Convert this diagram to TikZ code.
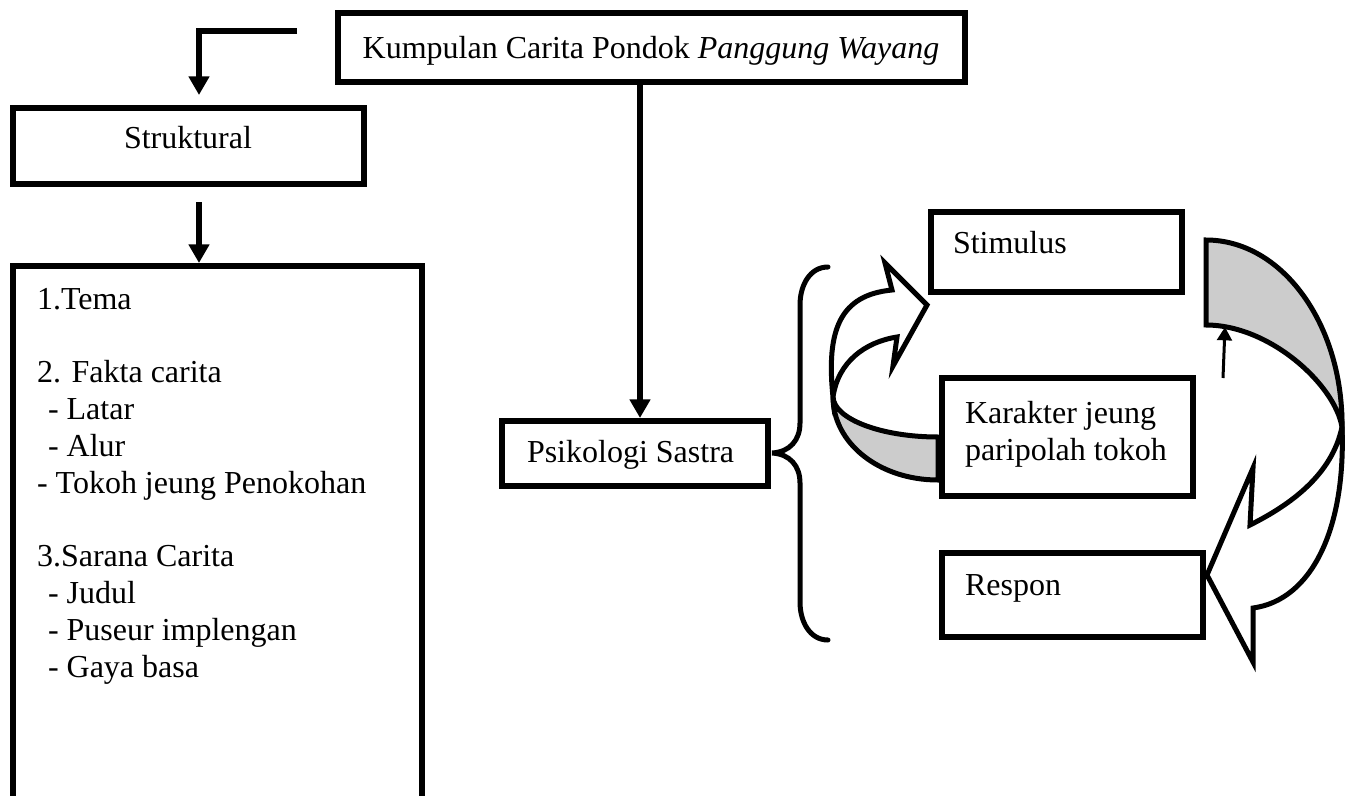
\documentclass[tikz,border=0pt]{standalone}
\usepackage{fontspec}
\setmainfont{Liberation Serif}
\usetikzlibrary{arrows.meta}
\begin{document}
\begin{tikzpicture}[x=0.75pt,y=-0.75pt,
  box/.style={draw, line width=4.5pt, fill=white, inner sep=0pt, outer sep=0pt, anchor=north west},
  txt/.style={inner sep=0pt, outer sep=0pt, anchor=base west, font=\fontsize{24}{27.6}\selectfont},
  conn/.style={line width=4.5pt, -{Triangle[length=14pt,width=15pt]}},
  thinconn/.style={line width=2.25pt, -{Triangle[length=10pt,width=11pt]}},
  curvy/.style={draw, line width=3.75pt, line join=miter, miter limit=10},
  bandfill/.style={fill=black!20},
  bracestyle/.style={line width=3.75pt, line cap=round}
  ]
\clip (0,0) rectangle (1350,796);
\fill[white] (0,0) rectangle (1350,796);

% ---------- curved block arrows ----------
% left arrow (from Karakter up to Stimulus)
\filldraw[curvy, bandfill] (833,397) .. controls (834,419) and (881,437) .. (938,437)
   -- (938,480) .. controls (879,480) and (833,443) .. (833,397) -- cycle;
\filldraw[curvy, fill=white] (833,397) .. controls (826,330) and (840,295) .. (892,290)
   -- (885,263) -- (927,305) -- (893,366) -- (897,337)
   .. controls (865,342) and (838,362) .. (833,397) -- cycle;
% right arrow (from Stimulus down to Respon)
\filldraw[curvy, bandfill] (1206,240) .. controls (1282,240) and (1343,324) .. (1342,427)
   .. controls (1335,385) and (1270,325) .. (1206,325) -- cycle;
\filldraw[curvy, fill=white] (1342,427) .. controls (1346,528) and (1312,600) .. (1253,608)
   -- (1253,662) -- (1207,575) -- (1253,468) -- (1250,525)
   .. controls (1290,505) and (1332,475) .. (1342,427) -- cycle;

% ---------- brace ----------
\draw[bracestyle] (828,267) .. controls (810,267) and (800,285) .. (800,305) -- (800,423)
   .. controls (800,440) and (790,452) .. (772,453)
   .. controls (790,454) and (800,466) .. (800,483) -- (800,602)
   .. controls (800,622) and (810,640) .. (828,640);

% ---------- boxes ----------
\node[box, minimum width=470.25pt, minimum height=51.75pt] (kump) at (338,13) {};
\node[box, minimum width=263.25pt, minimum height=57pt] (struk) at (13,108) {};
\node[box, minimum width=306.75pt, minimum height=423pt] (list) at (13,266) {};
\node[box, minimum width=199.5pt, minimum height=48.75pt] (psi) at (502,421) {};
\node[box, minimum width=188.25pt, minimum height=60pt] (stim) at (931,212) {};
\node[box, minimum width=188.25pt, minimum height=88.5pt] (kar) at (942,378) {};
\node[box, minimum width=195.75pt, minimum height=63pt] (resp) at (942,553) {};

% ---------- texts ----------
\node[txt, anchor=base] (tkump) at (651,58) {Kumpulan Carita Pondok \textit{Panggung Wayang}};
\node[txt, anchor=base] (tstruk) at (188,148) {Struktural};
\node[txt] (l1) at (37,309) {1.Tema};
\node[txt] (l2) at (37,382.6) {2. Fakta carita};
\node[txt] (l3) at (48,419.4) {- Latar};
\node[txt] (l4) at (48,456.2) {- Alur};
\node[txt] (l5) at (37,493) {- Tokoh jeung Penokohan};
\node[txt] (l6) at (37,566.6) {3.Sarana Carita};
\node[txt] (l7) at (48,603.4) {- Judul};
\node[txt] (l8) at (48,640.2) {- Puseur implengan};
\node[txt] (l9) at (48,677) {- Gaya basa};
\node[txt] (tpsi) at (527,462) {Psikologi Sastra};
\node[txt] (tstim) at (953,253) {Stimulus};
\node[txt] (tkar1) at (965,423) {Karakter jeung};
\node[txt] (tkar2) at (965,460) {paripolah tokoh};
\node[txt] (tresp) at (965,595) {Respon};

% ---------- connectors ----------
\coordinate (tl0) at (297,31);
\coordinate (tl1) at (199,95);
\draw[conn] (tl0) -| (tl1);
\coordinate (s0) at (199,202);
\draw[conn] (s0) -- ([yshift=2.25pt]s0 |- list.north);
\coordinate (k0) at (640,82);
\draw[conn] (k0) -- ([yshift=2.25pt]k0 |- psi.north);
\coordinate (sa0) at (1223,378);
\coordinate (sa1) at (1225,327);
\draw[thinconn] (sa0) -- (sa1);
\end{tikzpicture}
\end{document}
